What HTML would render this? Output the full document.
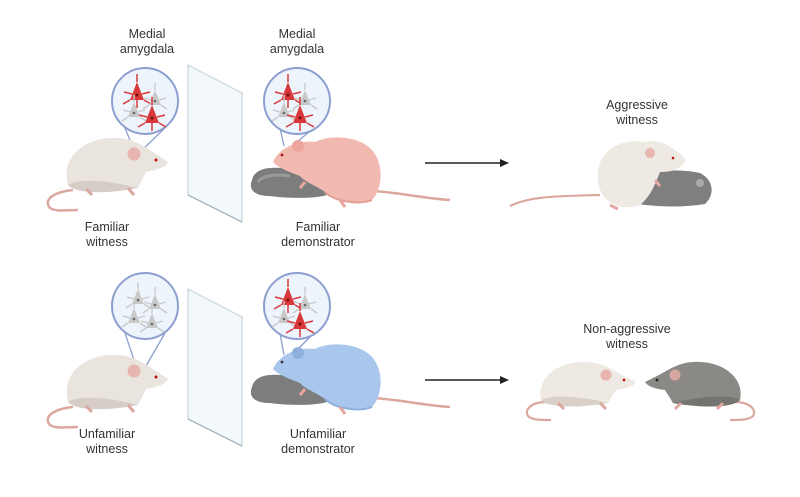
<!DOCTYPE html>
<html><head><meta charset="utf-8"><style>
html,body{margin:0;padding:0;background:#fff;}
svg{display:block;}
text{font-family:"Liberation Sans",sans-serif;font-size:12.5px;fill:#333;text-anchor:middle;}
</style></head><body>
<svg width="800" height="497" viewBox="0 0 800 497" xmlns="http://www.w3.org/2000/svg">
<defs>
<g id="neuR">
 <path d="M0,-12 L7,6 L-7,6 Z" fill="#d9383a"/>
 <path d="M0,-12 L0,-20 M-7,6 L-14,10 M7,6 L14,10 M-5,0 L-13,-2 M5,0 L13,-2 M0,6 L0,14" stroke="#d9383a" stroke-width="1.5" fill="none"/>
 <circle cx="0" cy="1" r="1.5" fill="#7a1010"/>
</g>
<g id="neuG">
 <path d="M0,-10 L6,5 L-6,5 Z" fill="#c9c9c9"/>
 <path d="M0,-10 L0,-17 M-6,5 L-12,9 M6,5 L12,9 M-4,0 L-11,-2 M4,0 L11,-2" stroke="#c9c9c9" stroke-width="1.4" fill="none"/>
 <circle cx="0" cy="1" r="1.3" fill="#666"/>
</g>
<g id="circ">
 <circle cx="0" cy="0" r="33" fill="#eef4fb" stroke="#8d9fd0" stroke-width="2"/>
</g>
<g id="wmouse">
 <path d="M-95,30 C-115,32 -125,40 -118,48 C-112,52 -102,50 -90,50" stroke="#dba79f" stroke-width="2.5" fill="none"/>
 <path d="M-100,25 C-108,-5 -80,-24 -50,-22 C-32,-21 -22,-12 -12,-6 L0,2 C-3,8 -12,10 -22,12 L-30,28 C-60,34 -92,34 -100,25 Z" fill="#e9e4de"/>
 <path d="M-100,25 C-90,18 -60,20 -30,28 C-60,34 -92,34 -100,25 Z" fill="#d6cec6"/>
 <circle cx="-34" cy="-6" r="6.5" fill="#e8b6ae"/>
 <circle cx="-12" cy="0" r="1.5" fill="#b11"/>
 <path d="M-40,28 L-34,35 M-82,29 L-76,35" stroke="#dba79f" stroke-width="3"/>
</g>
</defs>

<!-- TOP ROW -->
<text x="147" y="38">Medial</text><text x="147" y="53">amygdala</text>
<text x="297" y="38">Medial</text><text x="297" y="53">amygdala</text>

<line x1="125" y1="128" x2="134" y2="150" stroke="#8d9fd0" stroke-width="1.3"/>
<line x1="165" y1="128" x2="142" y2="150" stroke="#8d9fd0" stroke-width="1.3"/>
<use href="#circ" x="145" y="101"/>
<use href="#neuR" x="137" y="94"/><use href="#neuG" x="155" y="100"/><use href="#neuG" x="134" y="112"/><use href="#neuR" x="152" y="117"/>

<line x1="280" y1="128" x2="284" y2="146" stroke="#8d9fd0" stroke-width="1.3"/>
<line x1="314" y1="128" x2="292" y2="146" stroke="#8d9fd0" stroke-width="1.3"/>
<use href="#circ" x="297" y="101"/>
<use href="#neuR" x="288" y="94"/><use href="#neuG" x="305" y="100"/><use href="#neuG" x="284" y="112"/><use href="#neuR" x="300" y="117"/>

<path d="M188,65 L242,93 L242,222 L188,195 Z" fill="#f3f8fa" stroke="#c9d6dc" stroke-width="1.2"/>
<path d="M188,195 L242,222" stroke="#aab8c0" stroke-width="1.5"/>

<use href="#wmouse" transform="translate(168,160)"/>
<text x="107" y="231">Familiar</text><text x="107" y="246">witness</text>

<!-- familiar demonstrator -->
<path d="M360,190 C400,192 420,198 450,200" stroke="#dba79f" stroke-width="2.5" fill="none"/>
<path d="M252,180 C255,166 275,166 295,170 C320,172 335,178 338,188 C335,198 300,200 270,196 C255,196 248,190 252,180 Z" fill="#7d7d7d"/>
<path d="M258,182 C262,175 278,174 290,176" stroke="#999" stroke-width="3" fill="none"/>
<path d="M273,162 C280,146 300,140 315,142 C330,134 360,136 372,150 C385,165 382,190 372,200 C355,205 335,200 325,192 C315,185 305,182 300,176 C290,172 278,168 273,162 Z" fill="#f2b9b1"/>
<path d="M325,192 C335,202 360,205 372,200" stroke="#e39f97" stroke-width="2" fill="none"/>
<circle cx="298" cy="146" r="6" fill="#eda59e"/>
<circle cx="282" cy="155" r="1.4" fill="#a11"/>
<path d="M340,200 L345,207 M305,182 L300,188" stroke="#e8a69e" stroke-width="3"/>
<text x="318" y="231">Familiar</text><text x="318" y="246">demonstrator</text>

<line x1="425" y1="163" x2="502" y2="163" stroke="#222" stroke-width="1.4"/>
<path d="M509,163 L500,159 L500,167 Z" fill="#222"/>

<text x="637" y="109">Aggressive</text><text x="637" y="124">witness</text>
<path d="M600,195 C560,196 530,196 510,206" stroke="#dba79f" stroke-width="2.2" fill="none"/>
<path d="M625,182 C640,170 680,168 700,173 C714,180 715,195 705,204 C680,208 650,207 628,202 Z" fill="#7f7f7f"/>
<circle cx="700" cy="183" r="4" fill="#aaa"/>
<path d="M598,178 C596,150 622,138 645,142 C660,138 675,148 686,160 C680,170 672,172 660,172 C655,185 650,197 640,205 C620,212 598,202 598,178 Z" fill="#eee9e3"/>
<circle cx="650" cy="153" r="5" fill="#e8b6ae"/>
<circle cx="673" cy="158" r="1.3" fill="#b11"/>
<path d="M610,205 L618,209 M655,180 L660,186" stroke="#e4aaa2" stroke-width="3"/>

<!-- BOTTOM ROW -->
<line x1="125" y1="333" x2="136" y2="366" stroke="#8d9fd0" stroke-width="1.3"/>
<line x1="165" y1="333" x2="146" y2="366" stroke="#8d9fd0" stroke-width="1.3"/>
<use href="#circ" x="145" y="306"/>
<use href="#neuG" x="138" y="299"/><use href="#neuG" x="155" y="304"/><use href="#neuG" x="134" y="318"/><use href="#neuG" x="152" y="323"/>

<line x1="280" y1="333" x2="284" y2="355" stroke="#8d9fd0" stroke-width="1.3"/>
<line x1="314" y1="333" x2="292" y2="355" stroke="#8d9fd0" stroke-width="1.3"/>
<use href="#circ" x="297" y="306"/>
<use href="#neuR" x="288" y="299"/><use href="#neuG" x="305" y="304"/><use href="#neuG" x="284" y="318"/><use href="#neuR" x="300" y="323"/>

<path d="M188,289 L242,317 L242,446 L188,419 Z" fill="#f3f8fa" stroke="#c9d6dc" stroke-width="1.2"/>
<path d="M188,419 L242,446" stroke="#aab8c0" stroke-width="1.5"/>

<use href="#wmouse" transform="translate(168,377)"/>
<text x="107" y="438">Unfamiliar</text><text x="107" y="453">witness</text>

<path d="M360,397 C400,399 420,405 450,407" stroke="#dba79f" stroke-width="2.5" fill="none"/>
<path d="M252,387 C255,373 275,373 295,377 C320,379 335,385 338,395 C335,405 300,407 270,403 C255,403 248,397 252,387 Z" fill="#7d7d7d"/>
<path d="M273,369 C280,353 300,347 315,349 C330,341 360,343 372,357 C385,372 382,397 372,407 C355,412 335,407 325,399 C315,392 305,389 300,383 C290,379 278,375 273,369 Z" fill="#a9c6ec"/>
<path d="M325,399 C335,409 360,412 372,407" stroke="#8fb0dc" stroke-width="2" fill="none"/>
<circle cx="298" cy="353" r="6" fill="#8fb0dc"/>
<circle cx="282" cy="362" r="1.4" fill="#333"/>
<path d="M340,407 L345,414 M305,389 L300,395" stroke="#e8a69e" stroke-width="3"/>
<text x="318" y="438">Unfamiliar</text><text x="318" y="453">demonstrator</text>

<line x1="425" y1="380" x2="502" y2="380" stroke="#222" stroke-width="1.4"/>
<path d="M509,380 L500,376 L500,384 Z" fill="#222"/>

<text x="627" y="333">Non-aggressive</text><text x="627" y="348">witness</text>
<g transform="translate(636,380)">
 <path d="M-90,22 C-105,22 -112,30 -108,36 C-104,40 -95,40 -85,40" stroke="#dba79f" stroke-width="2.2" fill="none"/>
 <path d="M-95,20 C-100,-4 -75,-20 -48,-18 C-32,-17 -22,-9 -12,-4 L0,2 C-3,7 -12,9 -20,10 L-28,23 C-55,28 -88,28 -95,20 Z" fill="#eee9e3"/>
 <path d="M-95,20 C-85,14 -55,16 -28,23 C-55,28 -88,28 -95,20 Z" fill="#d9d1c8"/>
 <circle cx="-30" cy="-5" r="5.5" fill="#e8b6ae"/>
 <circle cx="-12" cy="0" r="1.4" fill="#b11"/>
 <path d="M-36,23 L-30,29 M-78,23 L-72,29" stroke="#dba79f" stroke-width="3"/>
</g>
<g transform="translate(645,380) scale(-1,1)">
 <path d="M-90,22 C-105,22 -112,30 -108,36 C-104,40 -95,40 -85,40" stroke="#dba79f" stroke-width="2.2" fill="none"/>
 <path d="M-95,20 C-100,-4 -75,-20 -48,-18 C-32,-17 -22,-9 -12,-4 L0,2 C-3,7 -12,9 -20,10 L-28,23 C-55,28 -88,28 -95,20 Z" fill="#8b8985"/>
 <path d="M-95,20 C-85,14 -55,16 -28,23 C-55,28 -88,28 -95,20 Z" fill="#75736f"/>
 <circle cx="-30" cy="-5" r="5.5" fill="#d8a79f"/>
 <circle cx="-12" cy="0" r="1.4" fill="#222"/>
 <path d="M-36,23 L-30,29 M-78,23 L-72,29" stroke="#dba79f" stroke-width="3"/>
</g>
</svg>
</body></html>
